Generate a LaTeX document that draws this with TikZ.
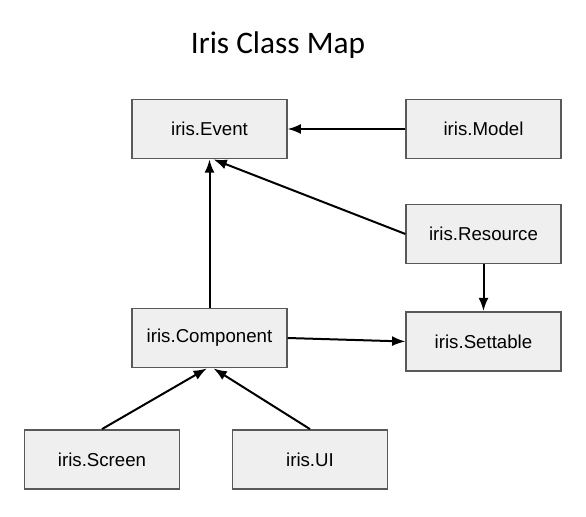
\documentclass[tikz,border=0pt]{standalone}
\usepackage{fontspec}
\setmainfont{Liberation Sans}
\newfontfamily\titlefont{Carlito}
\usetikzlibrary{arrows.meta}
\definecolor{boxfill}{HTML}{EFEFEF}
\definecolor{boxline}{HTML}{595959}
\begin{document}
\begin{tikzpicture}[x=0.75pt,y=-0.75pt,
  classbox/.style={draw=boxline,fill=boxfill,line width=1.1pt,minimum width=116pt,minimum height=44.5pt,inner sep=0pt,font=\fontsize{14}{16}\selectfont},
  inherit/.style={line width=1.5pt,-{Latex[length=10pt,width=7.5pt]}}]
\useasboundingbox (0,0) rectangle (586,517);
\node[font=\titlefont\fontsize{23.5}{28}\selectfont] (title) at (278,45) {Iris Class Map};
\node[classbox] (event) at (209.5,129) {iris.Event};
\node[classbox] (model) at (483.5,129) {iris.Model};
\node[classbox] (resource) at (483.5,234) {iris.Resource};
\node[classbox] (component) at (209.5,338) {iris.Component};
\node[classbox] (settable) at (483.5,341.5) {iris.Settable};
\node[classbox] (screen) at (102,459.5) {iris.Screen};
\node[classbox] (ui) at (310,459.5) {iris.UI};
\draw[inherit] (model) -- (event);
\draw[inherit] (resource.west) -- ([xshift=3pt]event.south);
\draw[inherit] (component.north) -- (event.south);
\draw[inherit] (resource.south) -- (settable.north);
\draw[inherit] (component.east) -- (settable.west);
\draw[inherit] (screen.north) -- ([xshift=-2pt]component.south);
\draw[inherit] (ui.north) -- ([xshift=3pt]component.south);
\end{tikzpicture}
\end{document}
